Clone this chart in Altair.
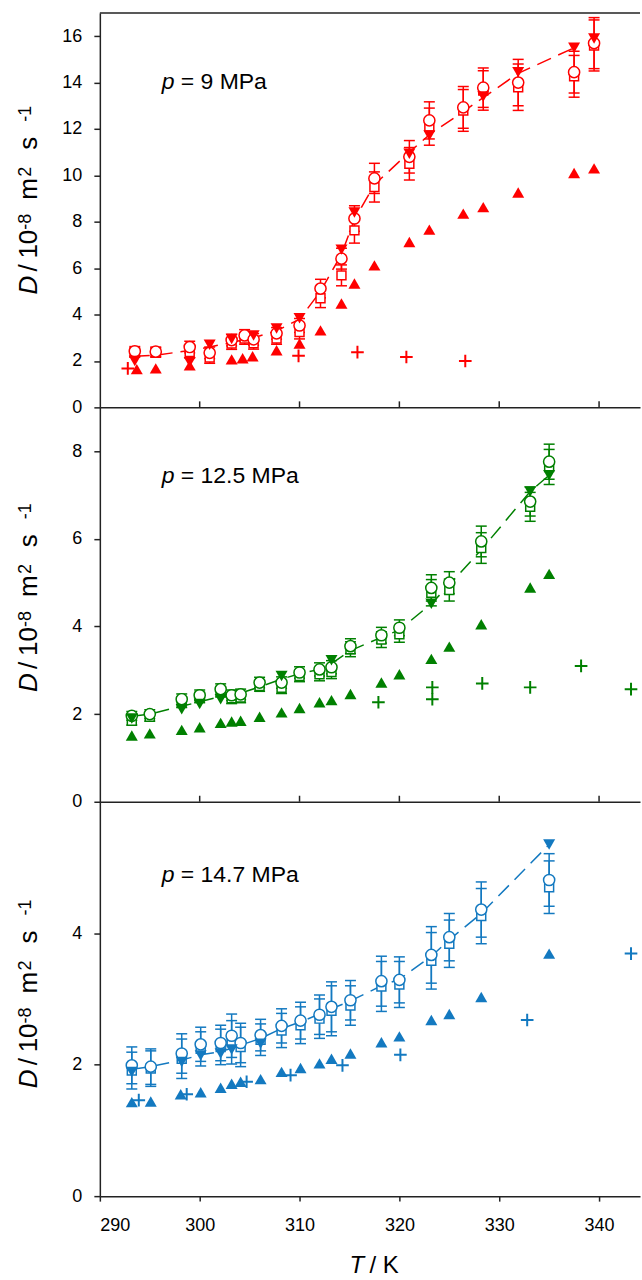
import altair as alt
import pandas as pd

# ---------------- data ----------------
# p = 9 MPa
T1 = [293.5, 295.6, 299.0, 301.0, 303.2, 304.5, 305.4, 307.7, 310.0, 312.1, 314.2, 315.5, 317.5, 321.0, 323.0, 326.4, 328.4, 331.9, 337.5, 339.5]
circle1 = [2.42, 2.40, 2.60, 2.35, 2.90, 3.10, 2.93, 3.19, 3.53, 5.12, 6.41, 8.14, 9.87, 10.80, 12.37, 12.93, 13.78, 14.00, 14.45, 15.70]
square1 = [2.36, 2.36, 2.38, 2.15, 2.75, 2.97, 2.76, 2.97, 3.25, 4.70, 5.69, 7.63, 9.50, 10.50, 12.10, 12.80, 13.66, 13.80, 14.27, 15.60]
err1 = [0.20, 0.20, 0.25, 0.25, 0.25, 0.25, 0.25, 0.25, 0.30, 0.40, 0.45, 0.55, 0.65, 0.70, 0.80, 0.90, 0.85, 1.00, 0.90, 1.10]
Tdown1 = [293.5, 299.0, 301.0, 303.2, 305.4, 307.7, 310.0, 314.2, 315.5, 321.0, 323.0, 328.4, 331.9, 337.5, 339.5]
down1 = [2.00, 1.95, 2.70, 2.95, 3.10, 3.40, 3.84, 6.80, 8.40, 10.93, 11.72, 13.40, 14.45, 15.50, 15.90]
Tup1 = [293.7, 295.6, 299.0, 303.2, 304.3, 305.3, 307.7, 310.0, 312.1, 314.2, 315.5, 317.5, 321.0, 323.0, 326.4, 328.4, 331.9, 337.5, 339.5]
up1 = [1.65, 1.68, 1.81, 2.07, 2.12, 2.20, 2.46, 2.75, 3.32, 4.48, 5.34, 6.12, 7.13, 7.66, 8.35, 8.63, 9.26, 10.10, 10.30]
Tplus1 = [292.8, 309.9, 315.8, 320.7, 326.6]
plus1 = [1.68, 2.22, 2.38, 2.17, 2.00]
Tline1 = [293.5, 295.6, 299.0, 301.0, 303.2, 305.4, 307.7, 310.0, 312.1, 314.2, 315.5, 317.5, 321.0, 323.0, 326.4, 328.4, 331.9, 337.5]
line1 = [2.20, 2.25, 2.45, 2.60, 2.80, 3.00, 3.30, 3.80, 5.00, 6.60, 8.10, 9.60, 11.00, 11.75, 12.75, 13.35, 14.40, 15.50]

# p = 12.5 MPa
T2 = [293.2, 295.0, 298.2, 300.0, 302.1, 303.2, 304.1, 306.0, 308.2, 310.0, 312.0, 313.2, 315.1, 318.2, 320.0, 323.2, 325.0, 328.2, 333.1, 335.0]
circle2 = [1.96, 2.00, 2.34, 2.43, 2.57, 2.43, 2.45, 2.72, 2.72, 2.95, 3.02, 3.07, 3.55, 3.80, 3.97, 4.88, 5.00, 5.94, 6.85, 7.76]
square2 = [1.85, 1.94, 2.27, 2.38, 2.51, 2.36, 2.38, 2.64, 2.60, 2.87, 2.91, 2.96, 3.48, 3.70, 3.82, 4.77, 4.83, 5.79, 6.73, 7.64]
err2 = [0.10, 0.10, 0.12, 0.12, 0.12, 0.12, 0.12, 0.12, 0.13, 0.13, 0.15, 0.15, 0.17, 0.18, 0.18, 0.30, 0.25, 0.35, 0.33, 0.40]
Tdown2 = [293.2, 298.2, 300.0, 302.1, 308.2, 313.2, 323.2, 333.1, 335.0]
down2 = [1.90, 2.11, 2.23, 2.34, 2.87, 3.23, 4.52, 7.08, 7.45]
Tup2 = [293.2, 295.0, 298.2, 300.0, 302.1, 303.2, 304.1, 306.0, 308.2, 310.0, 312.0, 313.2, 315.1, 318.2, 320.0, 323.2, 325.0, 328.2, 333.1, 335.0]
up2 = [1.51, 1.56, 1.64, 1.70, 1.80, 1.83, 1.85, 1.94, 2.04, 2.14, 2.27, 2.32, 2.46, 2.72, 2.91, 3.26, 3.54, 4.05, 4.89, 5.20]
Tplus2 = [317.9, 323.3, 323.3, 328.3, 333.1, 338.2, 343.2]
plus2 = [2.27, 2.61, 2.34, 2.70, 2.61, 3.10, 2.57]
Tline2 = [293.2, 295.0, 298.2, 300.0, 302.1, 304.1, 306.0, 308.2, 310.0, 312.0, 313.2, 315.1, 318.2, 320.0, 323.2, 325.0, 328.2, 333.1, 335.0]
line2 = [1.95, 2.00, 2.18, 2.28, 2.40, 2.48, 2.62, 2.80, 2.92, 3.02, 3.15, 3.45, 3.75, 3.92, 4.52, 4.95, 5.75, 7.08, 7.45]

# p = 14.7 MPa
T3 = [293.2, 295.1, 298.2, 300.1, 302.1, 303.2, 304.1, 306.1, 308.2, 310.1, 312.0, 313.2, 315.1, 318.2, 320.0, 323.2, 325.0, 328.2, 335.0]
circle3 = [1.99, 1.97, 2.17, 2.31, 2.33, 2.44, 2.33, 2.45, 2.59, 2.67, 2.76, 2.88, 2.98, 3.27, 3.29, 3.67, 3.94, 4.36, 4.81]
square3 = [1.91, 1.94, 2.09, 2.24, 2.27, 2.34, 2.27, 2.38, 2.52, 2.60, 2.70, 2.82, 2.90, 3.19, 3.22, 3.58, 3.84, 4.26, 4.70]
err3 = [0.28, 0.27, 0.30, 0.26, 0.27, 0.33, 0.30, 0.24, 0.26, 0.28, 0.30, 0.38, 0.30, 0.38, 0.35, 0.43, 0.36, 0.42, 0.40]
Tdown3 = [293.2, 298.2, 300.1, 302.1, 303.2, 306.1, 335.0]
down3 = [1.89, 2.04, 2.14, 2.17, 2.23, 2.32, 5.35]
Tup3 = [293.2, 295.1, 298.1, 300.1, 302.1, 303.2, 304.1, 306.1, 308.2, 310.1, 312.0, 313.2, 315.1, 318.2, 320.0, 323.2, 325.0, 328.2, 335.0]
up3 = [1.43, 1.44, 1.55, 1.58, 1.65, 1.71, 1.74, 1.78, 1.89, 1.95, 2.02, 2.09, 2.17, 2.34, 2.43, 2.68, 2.77, 3.03, 3.69]
Tplus3 = [293.9, 298.7, 304.7, 309.1, 314.3, 320.1, 332.8, 343.2]
plus3 = [1.46, 1.55, 1.74, 1.84, 1.99, 2.15, 2.68, 3.69]
Tline3 = [293.2, 295.1, 298.2, 300.1, 302.1, 303.2, 306.1, 308.2, 310.1, 312.0, 313.2, 315.1, 318.2, 320.0, 323.2, 325.0, 328.2, 335.0]
line3 = [1.93, 1.97, 2.07, 2.15, 2.20, 2.25, 2.40, 2.55, 2.65, 2.77, 2.85, 2.97, 3.20, 3.30, 3.65, 3.90, 4.30, 5.35]

x_ticks = [290, 300, 310, 320, 330, 340]
y_ticks1 = [0, 2, 4, 6, 8, 10, 12, 14, 16]
y_ticks2 = [0, 2, 4, 6, 8]
y_ticks3 = [0, 2, 4]
labels = ["9 MPa", "12.5 MPa", "14.7 MPa"]

# ---------------- styling ----------------
RED, GREEN, BLUE = "#FF0000", "#008000", "#1379C0"
AX = "#222222"
FONT = "Liberation Sans"
W, H = 541, 395
XDOM = [290, 344.1]
ONE = pd.DataFrame({"k": [0]})
PLUS = "M-1,0H1M0,-1V1"


def txt(s, x, y, size, style="normal", angle=0):
    return alt.Chart(ONE).mark_text(
        text=s, font=FONT, fontSize=size, fontStyle=style, angle=angle,
        align="left", baseline="alphabetic", color="black"
    ).encode(x=alt.value(x), y=alt.value(y))


def panel(Tc, circ, sq, err, Td, dn, Tu, up, Tp, pl, Tl, ln, color, ydom, yvals,
          label, bottom, first, lab_y, ts):
    if bottom:
        xaxis = alt.Axis(values=x_ticks, tickSize=5, labelPadding=15, labelFontSize=18,
                         labelFont=FONT, labelColor="black", format="d", title=None, grid=False,
                         domainColor=AX, domainWidth=1.5, tickColor=AX, tickWidth=1.5)
    else:
        xaxis = alt.Axis(labels=False, ticks=False, title=None, grid=False,
                         domainColor=AX, domainWidth=1.5)
    yaxis = alt.Axis(values=yvals, tickSize=6, labelPadding=12, format="d", title=None, grid=False,
                     labelFontSize=18, labelFont=FONT, labelColor="black",
                     domainColor=AX, domainWidth=1.5, tickColor=AX, tickWidth=1.5)
    xs = alt.Scale(domain=XDOM, nice=False, zero=False)
    ys = alt.Scale(domain=ydom, nice=False, zero=False)

    def X(f):
        return alt.X(f"{f}:Q", scale=xs, axis=xaxis)

    def Y(f):
        return alt.Y(f"{f}:Q", scale=ys, axis=yaxis)

    bars = pd.DataFrame({
        "T": Tc + Tc,
        "lo": [c - e for c, e in zip(circ, err)] + [s - e for s, e in zip(sq, err)],
        "hi": [c + e for c, e in zip(circ, err)] + [s + e for s, e in zip(sq, err)],
    })
    caps = pd.DataFrame({"T": list(bars["T"]) * 2, "v": list(bars["lo"]) + list(bars["hi"])})
    pts = pd.DataFrame({"T": Tc, "c": circ, "s": sq})
    dnd = pd.DataFrame({"T": Td, "v": dn})
    upd = pd.DataFrame({"T": Tu, "v": up})
    pld = pd.DataFrame({"T": Tp, "v": pl})
    lnd = pd.DataFrame({"T": Tl, "v": ln})

    layers = [
        alt.Chart(lnd).mark_line(color=color, strokeWidth=1.5, strokeDash=[15, 8]).encode(x=X("T"), y=Y("v")),
        alt.Chart(bars).mark_rule(color=color, strokeWidth=1.5).encode(x=X("T"), y=Y("lo"), y2="hi"),
        alt.Chart(caps).mark_tick(color=color, orient="horizontal", size=11, thickness=1.5, opacity=1).encode(x=X("T"), y=Y("v")),
        alt.Chart(pts).mark_point(shape="square", size=80, fill="white", stroke=color, strokeWidth=1.5,
                                  opacity=1, fillOpacity=1).encode(x=X("T"), y=Y("s")),
        alt.Chart(pts).mark_point(shape="circle", size=125, fill="white", stroke=color, strokeWidth=1.5,
                                  opacity=1, fillOpacity=1).encode(x=X("T"), y=Y("c")),
        alt.Chart(upd).mark_point(shape="triangle-up", size=145, filled=True, color=color,
                                  opacity=1).encode(x=X("T"), y=Y("v")),
        alt.Chart(dnd).mark_point(shape="triangle-down", size=145, filled=True, color=color,
                                  opacity=1).encode(x=X("T"), y=Y("v")),
        alt.Chart(pld).mark_point(shape=PLUS, size=160, filled=False, color=color, strokeWidth=2,
                                  opacity=1).encode(x=X("T"), y=Y("v")),
        # panel label
        txt("p", 62, lab_y, 23, "italic"),
        txt("= " + label, 81, lab_y, 23),
        # rotated y title: D / 10^-8 m^2 s^-1
        txt("D", -63, 282 + ts, 26, "italic", 270),
        txt("/", -63, 259 + ts, 26, "normal", 270),
        txt("10", -63, 246 + ts, 26, "normal", 270),
        txt("-8", -69, 217 + ts, 18, "normal", 270),
        txt("m", -63, 187 + ts, 26, "normal", 270),
        txt("2", -69, 164 + ts, 18, "normal", 270),
        txt("s", -63, 137 + ts, 26, "normal", 270),
        txt("-1", -69, 109 + ts, 18, "normal", 270),
    ]
    if not bottom:
        tk = pd.DataFrame({"t": x_ticks[1:]})
        layers.append(alt.Chart(tk).mark_rule(color=AX, strokeWidth=1.5).encode(
            x=X("t"), y=alt.value(H - 6), y2=alt.value(H)))
    else:
        layers.append(txt("T", 250, 472, 24, "italic"))
        layers.append(txt("/ K", 270, 472, 24))
    if first:
        layers.append(alt.Chart(ONE).mark_rule(color=AX, strokeWidth=1.5).encode(
            x=alt.value(0), x2=alt.value(W), y=alt.value(0)))
        layers.append(alt.Chart(ONE).mark_rule(color="white", strokeWidth=1).encode(
            x=alt.value(-99.5), x2=alt.value(-98.5), y=alt.value(200)))
    return alt.layer(*layers).properties(width=W, height=H)


p1 = panel(T1, circle1, square1, err1, Tdown1, down1, Tup1, up1, Tplus1, plus1, Tline1, line1,
           RED, [0, 17], y_ticks1, labels[0], False, True, 76, 0)
p2 = panel(T2, circle2, square2, err2, Tdown2, down2, Tup2, up2, Tplus2, plus2, Tline2, line2,
           GREEN, [0, 9], y_ticks2, labels[1], False, False, 76, 3)
p3 = panel(T3, circle3, square3, err3, Tdown3, down3, Tup3, up3, Tplus3, plus3, Tline3, line3,
           BLUE, [0, 6], y_ticks3, labels[2], True, False, 80, 5)

chart = alt.vconcat(p1, p2, p3, spacing=0, bounds="flush").properties(
    padding={"left": 0, "top": 11, "right": 0, "bottom": 0}
).configure_view(stroke=None).configure_axis(
    grid=False, domainColor=AX, domainWidth=1.5, tickColor=AX, tickWidth=1.5,
    labelFont=FONT, labelFontSize=18, labelColor="black"
)

chart.save("out.html", embed_options={"renderer": "svg", "actions": False})
